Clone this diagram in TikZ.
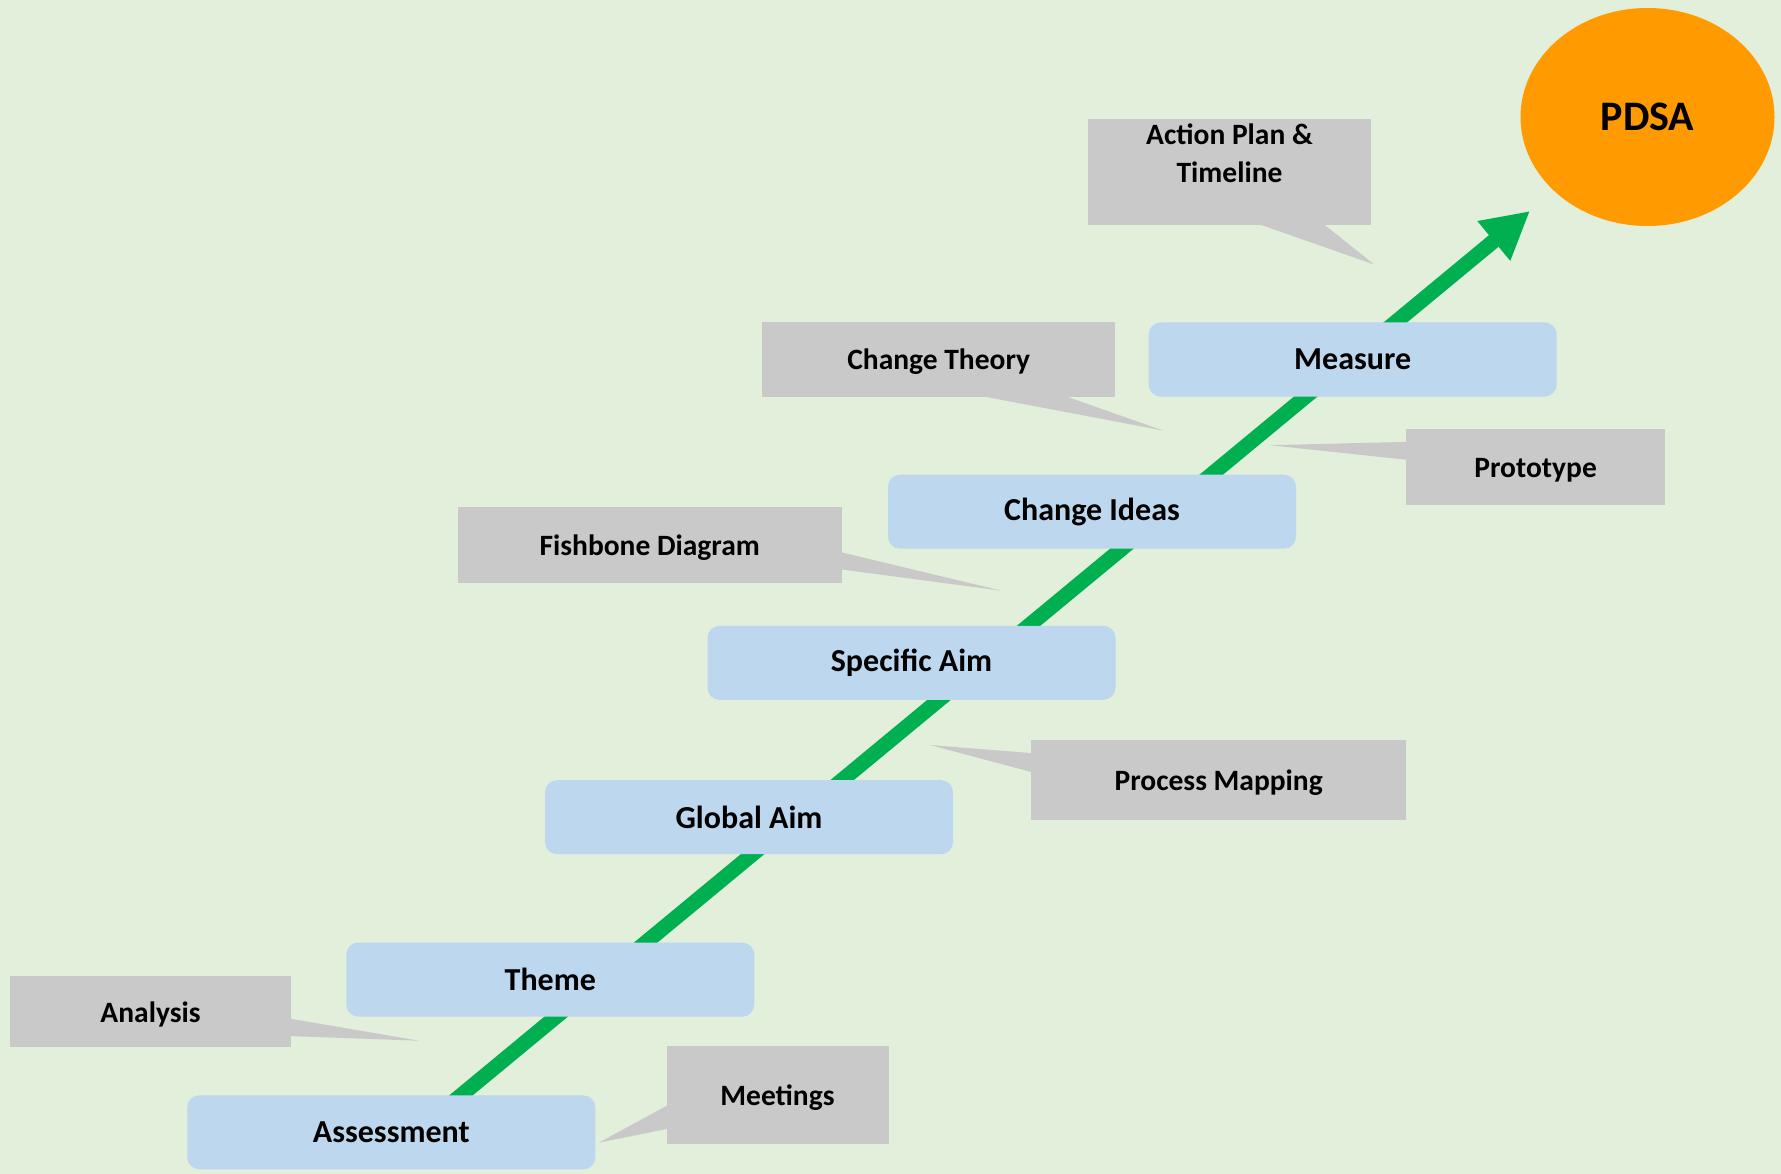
\documentclass[tikz,border=0pt]{standalone}
\usepackage{fontspec}
\setmainfont{Carlito}
\usetikzlibrary{arrows.meta,shapes.geometric}
\definecolor{bgcol}{HTML}{E2EFDA}
\definecolor{bluebox}{HTML}{BDD7EE}
\definecolor{graybox}{HTML}{C9C9C9}
\definecolor{arrowgreen}{HTML}{00B050}
\definecolor{pdsaorange}{HTML}{FF9A00}
\tikzset{
  stepbox/.style={fill=bluebox, draw=none, rounded corners=12pt, minimum width=408pt, minimum height=74pt, inner sep=0pt, font=\bfseries\fontsize{32}{38}\selectfont, text=black},
  notebox/.style={fill=graybox, draw=none, inner sep=0pt, font=\bfseries\fontsize{29.5}{37.5}\selectfont, text=black, align=center},
  noteline/.style={notebox, text height=25pt, text depth=4pt},
  pointer/.style={fill=graybox, draw=none},
  greenarrow/.style={draw=arrowgreen, line width=15pt, -{Triangle[length=47pt,width=48pt]}},
}
\begin{document}
\begin{tikzpicture}[x=1pt,y=-1pt]
\useasboundingbox (0,0) rectangle (1781,1174);
\fill[bgcol] (0,0) rectangle (1781,1174);

% PDSA
\node[ellipse, fill=pdsaorange, minimum width=254pt, minimum height=218pt, inner sep=0pt, font=\bfseries\fontsize{42}{48}\selectfont] (pdsa) at (1647.5,117) {PDSA};

% arrow
\coordinate (start) at (416.7,1132);
\coordinate (tip) at (1530,211);
\draw[greenarrow] (start) -- (tip);

% callouts
\fill[pointer] (1252.8,222) -- (1374.3,264.6) -- (1320.9,222) -- cycle;
\node[notebox, minimum width=283pt, minimum height=106pt] (apbox) at (1229.5,172.1) {};
\node[notebox] (ap) at (1229.5,153) {Action Plan \&\\Timeline};

\fill[pointer] (965.4,393) -- (1163,430.5) -- (1056.3,393) -- cycle;
\node[noteline, minimum width=353pt, minimum height=74pt] (ct) at (938.7,359.5) {Change Theory};

\fill[pointer] (1409,441.8) -- (1269.8,445.2) -- (1409,460) -- cycle;
\node[noteline, minimum width=259pt, minimum height=76pt] (proto) at (1535.6,467.4) {Prototype};

\fill[pointer] (838,551.5) -- (1001,590.6) -- (838,569) -- cycle;
\node[noteline, minimum width=384pt, minimum height=76pt] (fish) at (649.7,544.6) {Fishbone Diagram};

\fill[pointer] (1034,753.3) -- (929.9,745) -- (1034,772.7) -- cycle;
\node[noteline, minimum width=375pt, minimum height=80pt] (proc) at (1218.7,780.3) {Process Mapping};

\fill[pointer] (288,1018.3) -- (419,1040.7) -- (288,1036) -- cycle;
\node[noteline, minimum width=281pt, minimum height=71pt] (anal) at (150.5,1011.5) {Analysis};

\fill[pointer] (670,1104) -- (598.7,1142.7) -- (670,1128.3) -- cycle;
\node[noteline, minimum width=222pt, minimum height=98pt] (meet) at (777.5,1095) {Meetings};

% steps
\node[stepbox] (measure) at (1352.7,359.5) {Measure};
\node[stepbox] (ideas) at (1092,511.7) {Change Ideas};
\node[stepbox] (specific) at (911.5,662.8) {Specific Aim};
\node[stepbox] (global) at (749,817.2) {Global Aim};
\node[stepbox] (theme) at (550.3,979.6) {Theme};
\node[stepbox] (assess) at (391.3,1132.4) {Assessment};
\end{tikzpicture}
\end{document}
